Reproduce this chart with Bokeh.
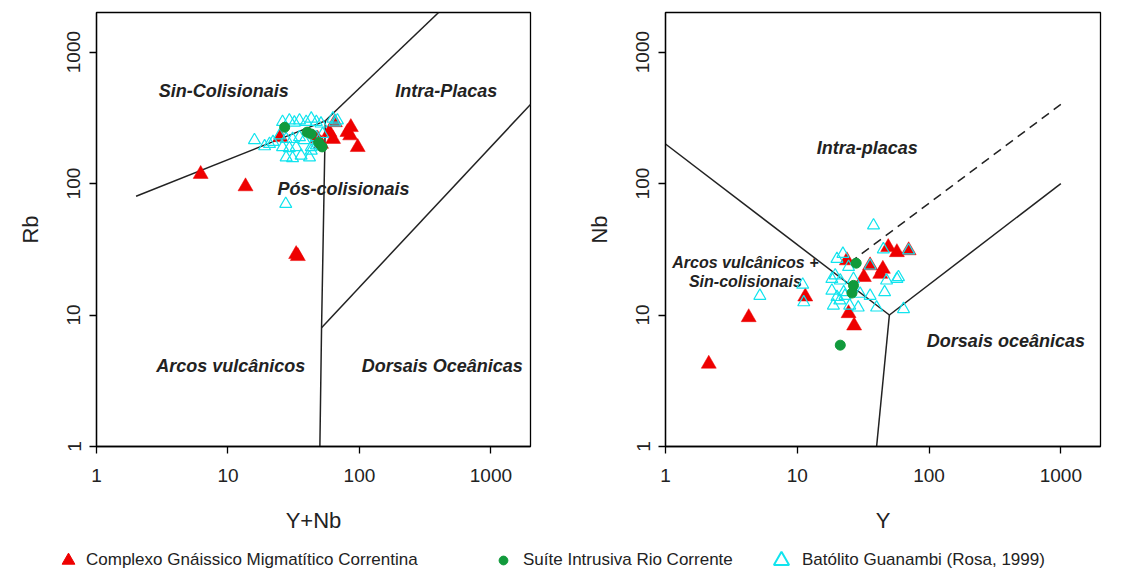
from bokeh.plotting import figure
from bokeh.layouts import column, row
from bokeh.models import FixedTicker, Legend, LegendItem, Range1d
from bokeh.core.properties import value
from bokeh.embed import file_html
from bokeh.resources import INLINE

# ---------------- data ----------------
TICKS = [1, 10, 100, 1000]
TICK_LABELS = ["1", "10", "100", "1000"]

SERIES = ["Complexo Gnáissico Migmatítico Correntina",
          "Suíte Intrusiva Rio Corrente",
          "Batólito Guanambi (Rosa, 1999)"]

# Left diagram: Rb vs Y+Nb
cgm_ynb = [6.2, 13.6, 33, 34, 25, 48, 51, 59, 63, 65, 81, 86, 85, 97]
cgm_rb = [118, 95, 29, 28, 225, 219, 200, 246, 218, 292, 246, 268, 232, 189]
sirc_ynb = [27, 40, 43, 49, 52]
sirc_rb = [268, 246, 238, 205, 190]
bg_ynb = [15.9, 19, 22, 24.7, 26, 29.3, 32, 35, 39.3, 43, 47, 51, 27.7, 31, 35, 38,
          26, 29.3, 33, 43, 47, 27.7, 31, 36, 41.7, 43, 62.8, 68, 47, 52.5, 27.5, 65, 20.7]
bg_rb = [214, 192, 207, 232, 294, 302, 291, 302, 294, 312, 294, 286, 218, 218, 225, 214,
         189, 186, 189, 189, 195, 158, 156, 163, 158, 178, 312, 302, 225, 238, 70, 292, 200]

# Right diagram: Nb vs Y
cgm_y = [2.13, 4.28, 11.5, 23.8, 24.5, 27, 32, 35.7, 42.6, 44.6, 49, 57, 70]
cgm_nb = [4.25, 9.6, 13.8, 26, 10.3, 8.3, 19.4, 23.8, 20.5, 22.4, 32.8, 30, 31]
sirc_y = [28, 26.7, 26, 21.2]
sirc_nb = [24.8, 16.8, 14.7, 5.9]
bg_y = [37.9, 22.2, 24.5, 18.3, 21.2, 57, 47.6, 46, 18.3, 20, 22.5, 30, 35.7, 29, 40,
        64, 21, 11.2, 11, 5.2, 19.4, 26.7, 25, 18.8, 35.7, 45, 70, 58.6, 20, 23]
bg_nb = [48, 29.2, 23.2, 18.8, 18.3, 18.8, 18.3, 14.9, 15.3, 13.7, 14.9, 14.5, 14, 11.4, 11.4,
         11.1, 12.9, 12.5, 17, 14, 20, 18.8, 11.8, 11.8, 23.8, 31.6, 31, 19.4, 26.7, 14]

# Discrimination boundaries (Pearce et al. 1984)
L_SEGMENTS = [
    ([2, 55], [80, 300]),
    ([55, 400], [300, 2000]),
    ([55, 51.5, 50], [300, 8, 1]),
    ([51.5, 2000], [8, 400]),
]
R_SEGMENTS = [
    ([1, 50], [200, 10]),
    ([50, 1000], [10, 100]),
    ([50, 40], [10, 1]),
]
R_DASHED = ([25, 1000], [25, 400])

L_LABELS = [
    ("Sin-Colisionais", 9.3, 510),
    ("Intra-Placas", 457, 510),
    ("Pós-colisionais", 75.5, 91.6),
    ("Arcos vulcânicos", 10.5, 4.13),
    ("Dorsais Oceânicas", 427, 4.13),
]
R_LABELS = [
    ("Intra-placas", 34, 188, "18px"),
    ("Arcos vulcânicos +\nSin-colisionais", 4.04, 21.2, "16px"),
    ("Dorsais oceânicas", 383, 6.4, "18px"),
]

# ---------------- style ----------------
FONT = "Liberation Sans"
RED = "#ee0000"
GREEN = "#119a3c"
CYAN = "#11e4ee"
LINE = "#222222"
TXT = "#222222"
FIG_H = 535


def make_fig(xlabel, ylabel, border_left, border_right, width):
    p = figure(width=width, height=FIG_H, x_axis_type="log", y_axis_type="log",
               x_range=Range1d(1, 2000), y_range=Range1d(1, 2000),
               output_backend="svg", toolbar_location=None,
               min_border_left=border_left, min_border_right=border_right,
               min_border_top=12, min_border_bottom=FIG_H - 12 - 434,
               background_fill_color="white", border_fill_color="white")
    p.grid.visible = False
    p.outline_line_color = "black"
    p.outline_line_width = 1.3
    overrides = {t: l for t, l in zip(TICKS, TICK_LABELS)}
    for ax in (p.xaxis[0], p.yaxis[0]):
        ax.ticker = FixedTicker(ticks=TICKS, minor_ticks=[])
        ax.major_label_overrides = overrides
        ax.major_tick_in = 0
        ax.major_tick_out = 7
        ax.major_tick_line_color = "black"
        ax.major_tick_line_width = 1.3
        ax.axis_line_color = "black"
        ax.axis_line_width = 1.3
        ax.major_label_text_font = FONT
        ax.major_label_text_font_size = "19px"
        ax.major_label_text_color = TXT
        ax.axis_label_text_font = FONT
        ax.axis_label_text_font_size = "22px"
        ax.axis_label_text_font_style = "normal"
        ax.axis_label_text_color = TXT
    p.xaxis.axis_label = xlabel
    p.yaxis.axis_label = ylabel
    p.xaxis.major_label_standoff = 15
    p.xaxis.axis_label_standoff = 23
    p.yaxis.major_label_orientation = "vertical"
    p.yaxis.major_label_standoff = 9
    p.yaxis.axis_label_standoff = 22
    return p


def add_points(p, rx, ry, gx, gy, cx, cy):
    p.scatter(rx, ry, marker="triangle", size=15, fill_color=RED, line_color=RED, line_width=0.5)
    p.scatter(cx, cy, marker="triangle", size=12, fill_color=None, line_color=CYAN, line_width=1.2)
    p.scatter(gx, gy, marker="circle", size=10, fill_color=GREEN, line_color=GREEN)


def add_labels(p, labels):
    for item in labels:
        txt, x, y = item[0], item[1], item[2]
        fs = item[3] if len(item) > 3 else "18px"
        p.text(x=[x], y=[y], text=[txt], text_align="center", text_baseline="middle",
               text_font=value(FONT), text_font_size=fs, text_font_style="bold italic",
               text_color=TXT, text_line_height=1.1)


# ---------------- left ----------------
p1 = make_fig("Y+Nb", "Rb", 96, 20, 550)
for xs, ys in L_SEGMENTS:
    p1.line(xs, ys, line_color=LINE, line_width=1.5)
add_labels(p1, L_LABELS)
add_points(p1, cgm_ynb, cgm_rb, sirc_ynb, sirc_rb, bg_ynb, bg_rb)

# ---------------- right ----------------
p2 = make_fig("Y", "Nb", 115, 15, 565)
for xs, ys in R_SEGMENTS:
    p2.line(xs, ys, line_color=LINE, line_width=1.5)
p2.line(R_DASHED[0], R_DASHED[1], line_color=LINE, line_width=1.5, line_dash="9 6")
add_labels(p2, R_LABELS)
add_points(p2, cgm_y, cgm_nb, sirc_y, sirc_nb, bg_y, bg_nb)

# ---------------- legend strip ----------------
LEG_H = 37
pl = figure(width=1115, height=LEG_H, x_range=Range1d(-2, -1), y_range=Range1d(-2, -1),
            output_backend="svg", toolbar_location=None,
            x_axis_location=None, y_axis_location=None,
            min_border_left=0, min_border_right=0, min_border_top=0, min_border_bottom=0)
pl.grid.visible = False
pl.outline_line_color = None
r_red = pl.scatter(cgm_ynb, cgm_rb, marker="triangle", fill_color=RED, line_color=RED)
r_green = pl.scatter(sirc_ynb, sirc_rb, marker="circle", fill_color=GREEN, line_color=GREEN)
r_cyan = pl.scatter(bg_ynb, bg_rb, marker="triangle", fill_color=None, line_color=CYAN, line_width=2)

for rend, name, gw, xloc, standoff in [
    (r_red, SERIES[0], 32, 52, 2),
    (r_green, SERIES[1], 22, 492, 9),
    (r_cyan, SERIES[2], 38, 762, 2),
]:
    lg = Legend(items=[LegendItem(label=name, renderers=[rend])],
                location=(xloc, 12 - gw / 2), glyph_width=gw, glyph_height=gw,
                label_standoff=standoff, padding=0, margin=0, spacing=0,
                border_line_alpha=0, background_fill_alpha=0,
                label_text_font=FONT, label_text_font_size="17px", label_text_color=TXT,
                label_height=gw)
    pl.add_layout(lg)

layout = column(row(p1, p2), pl)
open("out.html", "w").write(file_html(layout, INLINE))
